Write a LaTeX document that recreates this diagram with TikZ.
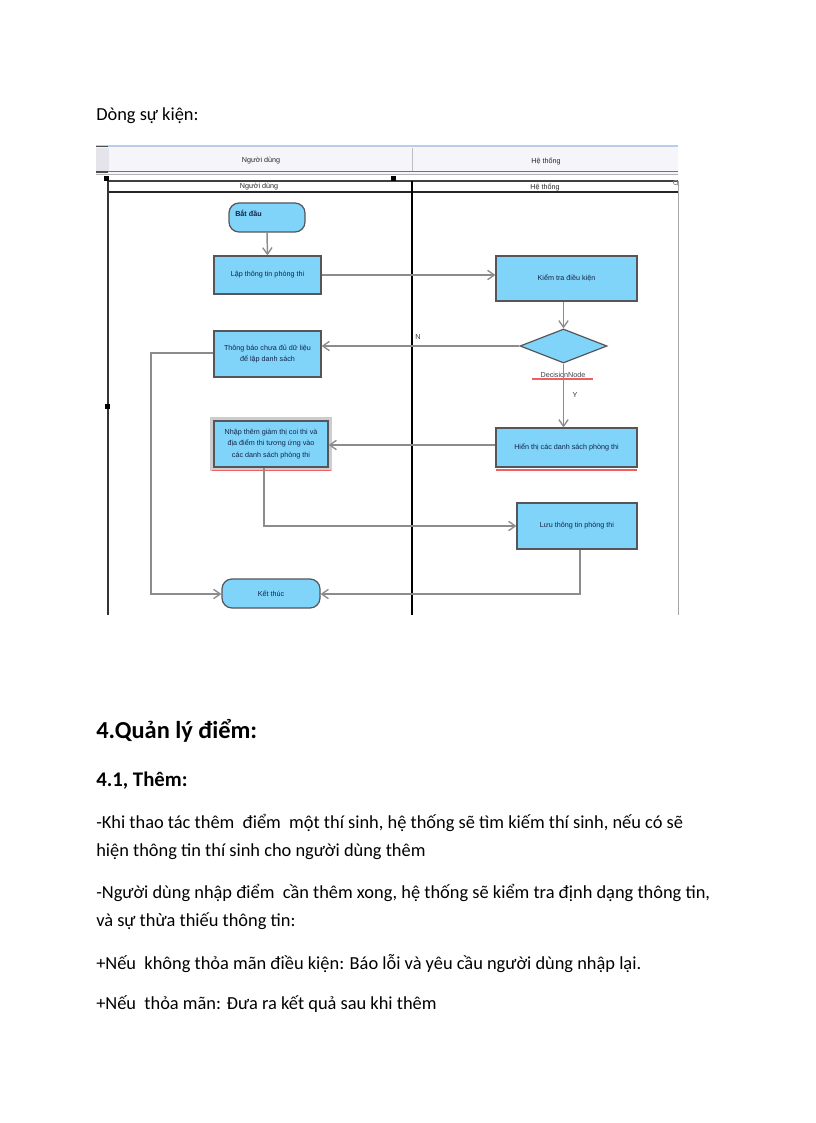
\documentclass[tikz,border=0pt]{standalone}
\usepackage{fontspec}
\setmainfont{Carlito}
\newfontfamily\dfont{Liberation Sans}
\usetikzlibrary{shapes.geometric,arrows.meta}
\definecolor{nodefill}{RGB}{128,212,250}
\definecolor{nodeborder}{RGB}{85,85,90}
\definecolor{linegray}{RGB}{140,140,140}
\definecolor{nodetext}{RGB}{20,35,70}
\definecolor{bandfill}{RGB}{246,246,250}
\definecolor{cellfill}{RGB}{228,228,234}
\definecolor{bandtop}{RGB}{185,205,232}
\definecolor{redline}{RGB}{240,95,95}
\definecolor{selgray}{RGB}{205,205,205}
\tikzset{
  actbox/.style={draw=nodeborder, line width=0.9pt, fill=nodefill, rectangle, inner sep=1pt,
    align=center, text=nodetext, font=\dfont\fontsize{5.4}{8.7}\selectfont},
  termbox/.style={actbox, rounded corners=7.5pt},
  decbox/.style={draw=nodeborder, line width=0.9pt, fill=nodefill, diamond, inner sep=0pt,
    minimum width=65.25pt, minimum height=25.5pt},
  conn/.style={draw=linegray, line width=1.1pt},
  arr/.style={conn, -{Straight Barb[length=5pt,width=7pt,line width=1pt]}},
  smalltext/.style={font=\dfont\fontsize{5.4}{6.5}\selectfont, text=black!85, inner sep=0pt},
  bodytext/.style={anchor=base west, inner sep=0pt, font=\fontsize{13.8}{16}\selectfont},
  handle/.style={fill=black},
}
\begin{document}
\begin{tikzpicture}[x=0.75pt,y=-0.75pt]
\useasboundingbox[fill=white] (0,0) rectangle (816,1123);

% page text
\node[bodytext] (title) at (96,121) {Dòng sự kiện:};

% header band
\fill[bandfill] (96,145) rectangle (678,174);
\fill[cellfill] (96,148) rectangle (109,172);
\draw[bandtop, line width=1.6pt] (96,146) -- (678,146);
\draw[black!55, line width=0.7pt] (96,171.5) -- (678,171.5);
\draw[black!30, line width=0.7pt] (96,174) -- (678,174);
\draw[black!25, line width=0.5pt] (412,148) -- (412,171);
\draw[black!70, line width=0.9pt] (96,146.5) -- (108,146.5);
\draw[black!70, line width=0.9pt] (96,172) -- (108,172);
\node[smalltext] (h1) at (261,161) {Người dùng};
\node[smalltext] (h2) at (546,161) {Hệ thống};

% swimlane frame
\draw[black!75, line width=1.1pt] (108,181) -- (678,181);
\draw[black!85, line width=1.3pt] (108,192) -- (678,192);
\draw[black!80, line width=1.1pt] (108,181) -- (108,615);
\draw[black, line width=1.5pt] (411.5,181) -- (411.5,615);
\draw[black!35, line width=0.6pt] (678,181) -- (678,615);
\node[smalltext] (l1) at (259,187) {Người dùng};
\node[smalltext] (l2) at (545,187) {Hệ thống};
\fill[handle] (103.5,176.5) rectangle (108.5,181.5);
\fill[handle] (390.5,176.5) rectangle (395.5,181.5);
\fill[handle] (104.5,403.5) rectangle (109.5,408.5);
\draw[black!45, line width=0.5pt] (675.5,182.5) circle (2.2);
\draw[black!45, line width=0.5pt] (677,184) -- (679,186);

% nodes
\node[termbox, minimum width=57pt, minimum height=21.75pt] (start) at (267,217.5) {};
\node[anchor=north west, inner sep=0pt, text=nodetext, font=\dfont\bfseries\fontsize{5.4}{6.5}\selectfont] (startlbl) at (235,209.5) {Bắt đầu};
\node[actbox, minimum width=80.25pt, minimum height=28.5pt] (lap) at (267.5,275) {Lập thông tin phòng thi};
\node[actbox, minimum width=105.75pt, minimum height=33.75pt] (kiem) at (566.5,278.5) {Kiểm tra điều kiện};
\node[decbox] (dec) at (563.5,346) {};
\node[smalltext, text=black!75] (declbl) at (563,375) {DecisionNode};
\node[actbox, minimum width=80.25pt, minimum height=34.5pt] (thong) at (267.5,354) {Thông báo chưa đủ dữ liệu\\để lập danh sách};
\draw[selgray, line width=2.6pt] (211.5,418.5) rectangle (330.5,469);
\node[actbox, minimum width=85.5pt, minimum height=34.5pt] (nhap) at (271,444) {Nhập thêm giám thị coi thi và\\địa điểm thi tương ứng vào\\các danh sách phòng thi};
\node[actbox, minimum width=105.75pt, minimum height=29.25pt] (hien) at (566.5,447.5) {Hiển thị các danh sách phòng thi};
\node[actbox, minimum width=90pt, minimum height=34.5pt] (luu) at (577,526) {Lưu thông tin phòng thi};
\node[termbox, minimum width=73.5pt, minimum height=21.75pt] (ket) at (271,593.5) {Kết thúc};

% red underlines
\draw[redline, line width=1pt] (212,470.5) -- (331,470.5);
\draw[redline, line width=1pt] (496,470) -- (637,470);
\draw[redline, line width=0.9pt] (532,379) -- (593,379);

% labels
\node[smalltext, text=black!80] (nlbl) at (418,337) {N};
\node[smalltext, text=black!80] (ylbl) at (575,395) {Y};

% connectors
\draw[arr] (start.south) -- (lap.north);
\draw[arr] (lap.east) -- (kiem.west |- lap.east);
\draw[arr] (dec.north |- kiem.south) -- (dec.north);
\draw[arr] (dec.west) -- (dec.west -| thong.east);
\draw[arr] (dec.south) -- (dec.south |- hien.north);
\draw[arr] (hien.west |- 0,445) -- (nhap.east |- 0,445);
\coordinate (c1) at (264,526);
\draw[arr] (nhap.south -| c1) -- (c1) -- (luu.west |- c1);
\coordinate (c2) at (580,594);
\draw[arr] (luu.south -| c2) -- (c2) -- (ket.east |- c2);
\coordinate (c3) at (151,353);
\coordinate (c4) at (151,594);
\draw[arr] (thong.west |- c3) -- (c3) -- (c4) -- (ket.west |- c4);

% section text
\node[anchor=base west, inner sep=0pt, font=\bfseries\fontsize{18.3}{20}\selectfont] (sec) at (96,738) {4.Quản lý điểm:};
\node[anchor=base west, inner sep=0pt, font=\bfseries\fontsize{15.6}{18}\selectfont] (sub) at (96,786) {4.1, Thêm:};
\node[bodytext] (p1) at (96,828) {-Khi thao tác thêm \ điểm \ một thí sinh, hệ thống sẽ tìm kiếm thí sinh, nếu có sẽ};
\node[bodytext] (p2) at (96,856) {hiện thông tin thí sinh cho người dùng thêm};
\node[bodytext] (p3) at (96,898) {-Người dùng nhập điểm \ cần thêm xong, hệ thống sẽ kiểm tra định dạng thông tin,};
\node[bodytext] (p4) at (96,926) {và sự thừa thiếu thông tin:};
\node[bodytext] (p5) at (96,969) {+Nếu \ không thỏa mãn điều kiện: Báo lỗi và yêu cầu người dùng nhập lại.};
\node[bodytext] (p6) at (96,1009) {+Nếu \ thỏa mãn: Đưa ra kết quả sau khi thêm};
\end{tikzpicture}
\end{document}
